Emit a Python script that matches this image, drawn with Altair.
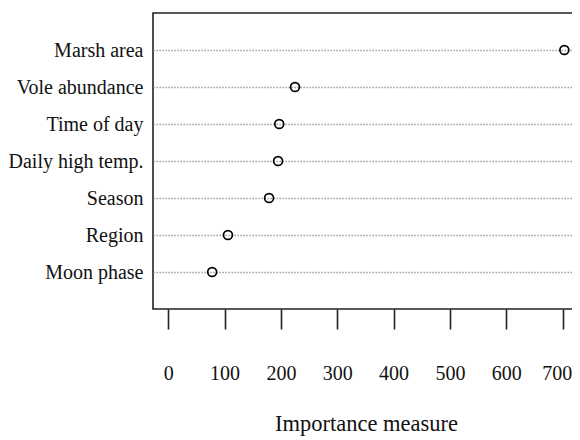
import altair as alt
import pandas as pd

categories = ["Marsh area", "Vole abundance", "Time of day", "Daily high temp.",
              "Season", "Region", "Moon phase"]
values = [703, 225, 197, 195, 179, 106, 78]
tick_values = [0, 100, 200, 300, 400, 500, 600, 700]

df = pd.DataFrame({"variable": categories, "importance": values})

FONT = "Liberation Serif"

chart = alt.Chart(df).mark_point(
    shape="circle", filled=False, color="black", size=80, strokeWidth=1.7, opacity=1
).encode(
    x=alt.X(
        "importance:Q",
        scale=alt.Scale(domain=[-27, 729], nice=False, zero=False),
        axis=alt.Axis(
            values=tick_values, title="Importance measure", grid=False, domain=False,
            ticks=True, tickSize=20, tickColor="#222", tickWidth=1.6,
            labelFont=FONT, labelFontSize=20, labelColor="#111",
            labelBaseline="alphabetic", labelPadding=50,
            labelOffset={"condition": {"test": "datum.value == 700", "value": -6}, "value": 0},
            titleFont=FONT, titleFontSize=22.5, titleFontWeight="normal", titleColor="#111",
            titleBaseline="alphabetic", titleY=121,
        ),
    ),
    y=alt.Y(
        "variable:N",
        sort=categories,
        scale=alt.Scale(type="point", padding=1.05),
        axis=alt.Axis(
            title=None, domain=False, ticks=False, grid=True,
            gridColor="#888888", gridDash=[1.2, 1.8], gridWidth=1.4,
            labelFont=FONT, labelFontSize=20, labelColor="#111", labelPadding=10,
            labelLimit=300,
        ),
    ),
).properties(
    width=426, height=296,
    autosize=alt.AutoSizeParams(type="none"),
    padding={"left": 145, "top": 5, "right": -7, "bottom": 131},
).configure_view(
    stroke="#222", strokeWidth=1.6
)

chart.save("out.html", embed_options={"renderer": "svg", "actions": False})
